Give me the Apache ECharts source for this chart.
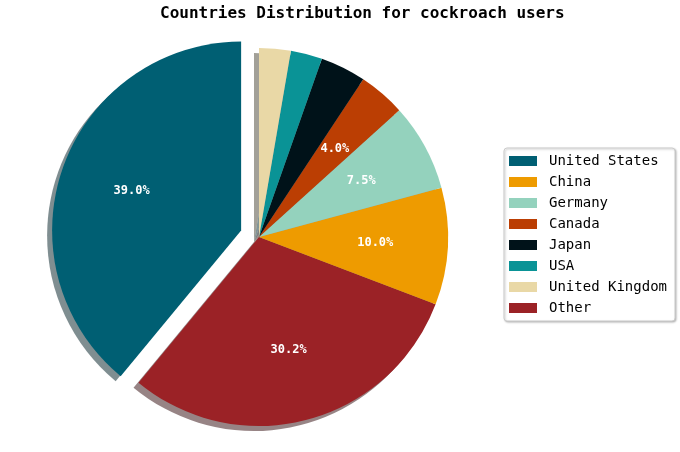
<!DOCTYPE html>
<html>
<head>
<meta charset="utf-8">
<script src="https://cdn.jsdelivr.net/npm/echarts@6/dist/echarts.min.js"></script>
<style>
html,body{margin:0;padding:0;background:#fff;}
#main{width:680px;height:452px;}
</style>
</head>
<body>
<div id="main"></div>
<script>
// Data (pie drawn counter-clockwise from 12 o'clock in this order)
const categories = ['United States', 'Other', 'China', 'Germany', 'Canada', 'Japan', 'USA', 'United Kingdom'];
const shares = [39.0, 30.2, 10.0, 7.5, 4.0, 3.9, 2.7, 2.7];
const sliceColors = ['#005f73', '#9b2226', '#ee9b00', '#94d2bd', '#bb3e03', '#001219', '#0a9396', '#e9d8a6'];
const legendOrder = ['United States', 'China', 'Germany', 'Canada', 'Japan', 'USA', 'United Kingdom', 'Other'];
const explodedName = 'United States';
const titleText = 'Countries Distribution for cockroach users';
const labelThreshold = 4;

const CX = 259, CY = 237, R = 189, EXPLODE = 19;
const MONO = "'DejaVu Sans Mono', monospace";

function shadowOf(hex) {
  const n = parseInt(hex.slice(1), 16);
  const r = Math.round(((n >> 16) & 255) * 0.3);
  const g = Math.round(((n >> 8) & 255) * 0.3);
  const b = Math.round((n & 255) * 0.3);
  return 'rgba(' + r + ',' + g + ',' + b + ',0.5)';
}

const common = {
  type: 'pie',
  startAngle: 90,
  clockwise: false,
  selectedMode: 'single',
  selectedOffset: EXPLODE,
  avoidLabelOverlap: false,
  labelLine: { show: false },
  emphasis: { disabled: true },
  silent: true,
  animation: false
};

const shadowSeries = Object.assign({}, common, {
  name: 'shadow',
  z: 1,
  center: [CX - 5, CY + 5],
  radius: [0, R],
  label: { show: false },
  data: categories.map((c, i) => ({
    name: 'shadow-' + c,
    value: shares[i],
    selected: c === explodedName,
    itemStyle: { color: shadowOf(sliceColors[i]), borderWidth: 0 }
  }))
});

const mainSeries = Object.assign({}, common, {
  name: 'Countries',
  z: 2,
  center: [CX, CY],
  radius: [0, R],
  label: { show: false },
  itemStyle: { borderWidth: 0 },
  data: categories.map((c, i) => ({
    name: c,
    value: shares[i],
    selected: c === explodedName,
    itemStyle: { color: sliceColors[i], borderWidth: 0 }
  }))
});

// Invisible helper ring: its "inside" label sits at 0.6 of the visible radius
const labelSeries = Object.assign({}, common, {
  name: 'labels',
  z: 3,
  center: [CX, CY],
  radius: [0, R * 1.2],
  itemStyle: { color: 'rgba(0,0,0,0)', borderWidth: 0 },
  label: {
    show: true,
    position: 'inside',
    rotate: 0,
    color: '#ffffff',
    fontFamily: MONO,
    fontWeight: 'bold',
    fontSize: 12,
    formatter: p => (p.value >= labelThreshold ? p.value.toFixed(1) + '%' : '')
  },
  data: categories.map((c, i) => ({
    name: 'label-' + c,
    value: shares[i],
    selected: c === explodedName
  }))
});

const chart = echarts.init(document.getElementById('main'), null, { renderer: 'canvas' });
chart.setOption({
  backgroundColor: '#ffffff',
  title: {
    text: titleText,
    left: 160,
    top: 6,
    padding: 0,
    textStyle: { fontFamily: MONO, fontWeight: 'bold', fontSize: 16, color: '#000' }
  },
  legend: {
    orient: 'vertical',
    left: 504,
    top: 148,
    data: legendOrder,
    icon: 'rect',
    itemWidth: 28,
    itemHeight: 10,
    itemGap: 7,
    selectedMode: false,
    padding: [6, 8, 6, 5],
    backgroundColor: '#ffffff',
    borderColor: '#cccccc',
    borderWidth: 1,
    borderRadius: 3,
    shadowColor: 'rgba(0,0,0,0.25)',
    shadowBlur: 2,
    shadowOffsetX: 1,
    shadowOffsetY: 1,
    textStyle: { fontFamily: MONO, fontSize: 14, color: '#000', lineHeight: 14, padding: [0, 0, 0, 7] }
  },
  series: [mainSeries, shadowSeries, labelSeries]
});
</script>
</body>
</html>
